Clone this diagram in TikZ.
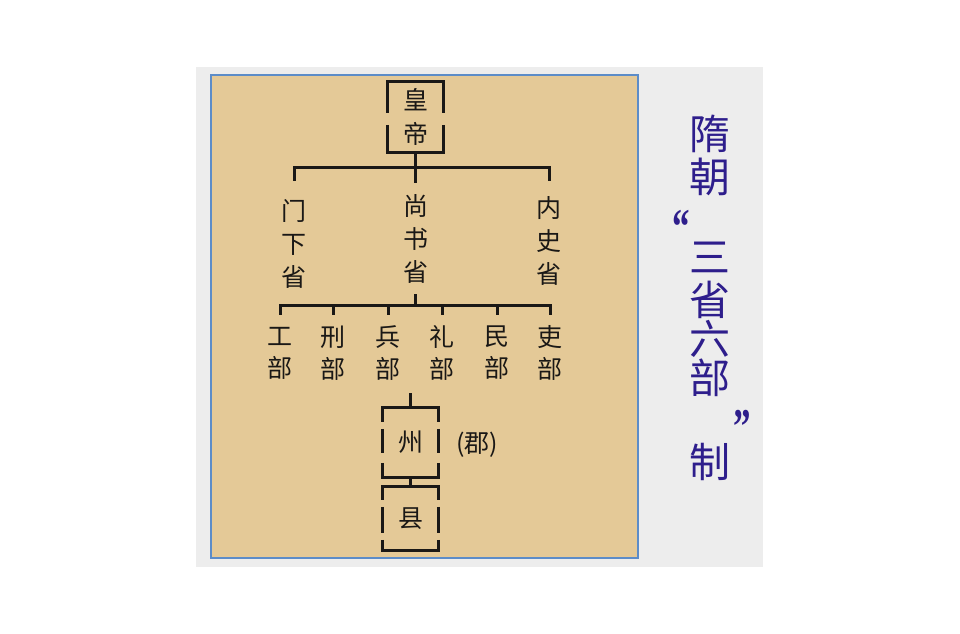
\documentclass[tikz,border=0pt]{standalone}
\usepackage{fontspec}
\newfontfamily\cjk{Noto Sans CJK SC}
\newfontfamily\quotefont{Liberation Serif}
\usetikzlibrary{calc}
\definecolor{paper}{RGB}{237,237,237}
\definecolor{sand}{RGB}{228,201,151}
\definecolor{rim}{RGB}{92,140,200}
\definecolor{ink}{RGB}{26,24,22}
\definecolor{indigo}{RGB}{46,30,140}
\newcommand{\trimquote}[1]{\raisebox{-0.37em}[0.32em][0pt]{#1}}

\begin{document}
\begin{tikzpicture}[x=1pt, y=-1pt,
    wire/.style={draw=ink, line width=3pt},
    cell/.style={font=\cjk\fontsize{25}{33}\selectfont, text=ink, inner sep=0pt, align=center},
    titlechar/.style={font=\cjk\fontsize{41}{41}\selectfont, text=indigo, inner sep=0pt},
    quotechar/.style={font=\quotefont\bfseries\fontsize{50}{50}\selectfont, text=indigo, inner sep=0pt, xscale=0.7}]
    \useasboundingbox (0,0) rectangle (960,633);
    \fill[paper] (196,67) rectangle (763,567);
    \filldraw[fill=sand, draw=rim, line width=1.2pt] (211,75) rectangle (638,558);

    % emperor
    \node[cell, minimum width=55pt, minimum height=70pt, font=\cjk\fontsize{25}{33.5}\selectfont] (emperor) at (415.5,117) {皇\\帝};
    \draw[wire, line cap=rect] (emperor.north west) -- (emperor.north east);
    \draw[wire, line cap=rect] (emperor.south west) -- (emperor.south east);
    \foreach \side in {west, east}
        \draw[wire, dash pattern=on 31pt off 12pt on 27pt] (emperor.north \side) -- (emperor.south \side);

    % three departments
    \node[cell, minimum height=125pt] (menxia) at (294,243.5) {门\\下\\省};
    \node[cell, minimum height=111pt] (shangshu) at (415.5,238.5) {尚\\书\\省};
    \node[cell, minimum height=120pt] (neishi) at (549,241) {内\\史\\省};

    \coordinate (upper) at ($(emperor.south)+(0,15.5)$);
    \draw[wire] (emperor.south) -- (shangshu.north);
    \draw[wire] (menxia.north) |- (upper) -| (neishi.north);

    % six ministries
    \foreach \name/\x/\ch in {gong/280/工, xing/333/刑, bing/388/兵, li/442/礼, min/497/民, libu/550/吏}
        \node[cell, minimum height=76pt, font=\cjk\fontsize{25}{32}\selectfont] (\name) at (\x,353) {\ch\\部};

    \coordinate (lower) at ($(shangshu.south)+(0,11)$);
    \draw[wire] (shangshu.south) -- (lower);
    \draw[wire] (gong.north) |- (lower) -| (libu.north);
    \foreach \name in {xing, bing, li, min}
        \draw[wire] (\name.north) -- (\name.north |- lower);

    % prefecture and county
    \node[cell, minimum width=55pt, minimum height=69pt] (zhou) at (410.5,442.5) {州};
    \node[cell] (jun) at (477,445) {(郡)};
    \node[cell, minimum width=55pt, minimum height=63pt] (xian) at (410.5,518.5) {县};

    \coordinate (zhoutop) at (410.5,393);
    \draw[wire] (zhoutop) -- (zhou.north);
    \draw[wire] (zhou.south) -- (xian.north);
    \foreach \unit in {zhou, xian} {
        \draw[wire, line cap=rect] (\unit.north west) -- (\unit.north east);
        \draw[wire, line cap=rect] (\unit.south west) -- (\unit.south east);
    }
    \foreach \side in {west, east} {
        \draw[wire, dash pattern=on 14pt off 7pt on 24pt off 10pt on 14pt] (zhou.north \side) -- (zhou.south \side);
        \draw[wire, dash pattern=on 13pt off 7pt on 26pt off 7pt on 10pt] (xian.north \side) -- (xian.south \side);
    }

    % title
    \foreach \ch/\y [count=\i] in {隋/134, 朝/177, 三/257, 省/300, 六/339, 部/378, 制/462}
        \node[titlechar] (title\i) at (710,\y) {\ch};
    \node[quotechar] (lquote) at (681,217) {\trimquote{“}};
    \node[quotechar] (rquote) at (742,417) {\trimquote{”}};
\end{tikzpicture}
\end{document}
